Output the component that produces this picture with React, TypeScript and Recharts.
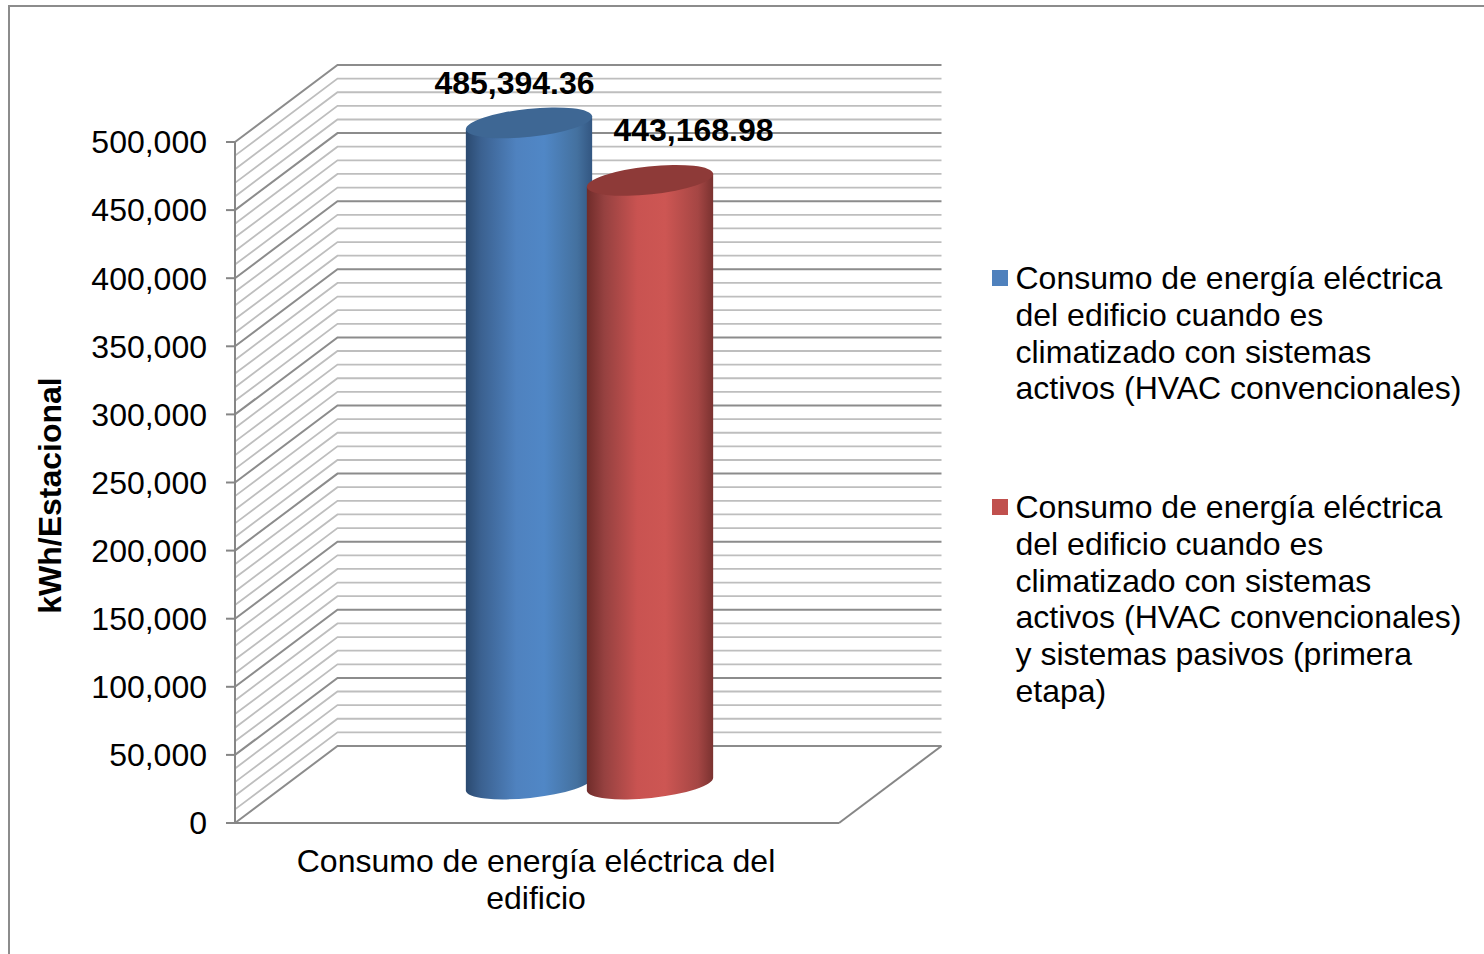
import { BarChart, Bar, XAxis, YAxis, CartesianGrid, Legend } from "recharts";

const categories = ["Consumo de energía eléctrica del edificio"];
const categoryLines = ["Consumo de energía eléctrica del", "edificio"];
const activeValues = [485394.36];
const activePassiveValues = [443168.98];
const activeName = "Consumo de energía eléctrica del edificio cuando es climatizado con sistemas activos (HVAC convencionales)";
const activePassiveName = "Consumo de energía eléctrica del edificio cuando es climatizado con sistemas activos (HVAC convencionales) y sistemas pasivos (primera etapa)";
const yTicks = [0, 50000, 100000, 150000, 200000, 250000, 300000, 350000, 400000, 450000, 500000];
const minorStep = 10000;
const gridValues = Array.from({ length: 51 }, (_, i) => i * minorStep);

const data = categories.map((name, i) => ({
  name,
  active: activeValues[i],
  activePassive: activePassiveValues[i],
}));

// fake 3d: how far the back wall sits from the front plane
const WALL_DX = 102.5;
const WALL_DY = -77;
const BAR_DX = 52.5;
const BAR_DY = -39;
const TILT = -6;
const FONT = "'Liberation Sans', Arial, sans-serif";
const AXIS = "#868686";

function GridLine(props: any) {
  const { x1, x2, y1, index } = props;
  const major = index % 5 === 0;
  const by = y1 + WALL_DY;
  const isFloor = Math.abs(y1 - 823) < 1;
  return (
    <g key={index}>
      <polyline
        points={`${x1},${y1} ${x1 + WALL_DX},${by} ${x2 + WALL_DX},${by}`}
        fill="none"
        stroke={major ? "#8c8c8c" : "#bebebe"}
        strokeWidth={major ? 2 : 1.8}
      />
      {isFloor && <line x1={x2} y1={y1} x2={x2 + WALL_DX} y2={by} stroke={AXIS} strokeWidth={2} />}
    </g>
  );
}

function Cylinder(props: any) {
  const { x, y, width, height, gradient, capFill } = props;
  const cx = x + width / 2 + BAR_DX;
  const topY = y + BAR_DY;
  const botY = y + height + BAR_DY;
  const rx = width / 2;
  const ry = 14;
  const ax = rx * Math.cos((TILT * Math.PI) / 180);
  const ay = rx * Math.sin((TILT * Math.PI) / 180);
  const body =
    `M${cx - ax},${topY - ay} L${cx - ax},${botY - ay} ` +
    `A${rx},${ry} ${TILT} 0 0 ${cx + ax},${botY + ay} ` +
    `L${cx + ax},${topY + ay} Z`;
  return (
    <g>
      <path d={body} fill={`url(#${gradient})`} />
      <ellipse cx={cx} cy={topY} rx={rx} ry={ry} fill={capFill} transform={`rotate(${TILT} ${cx} ${topY})`} />
    </g>
  );
}

function valueLabel(dx: number, dy: number) {
  return (p: any) => (
    <text
      x={p.x + p.width / 2 + dx}
      y={p.y + dy}
      textAnchor="middle"
      fontSize={32}
      fontWeight="bold"
      fontFamily={FONT}
      fill="#000"
    >
      {Number(p.value).toLocaleString("en-US", { minimumFractionDigits: 2 })}
    </text>
  );
}

function CategoryTick(props: any) {
  const { x, y } = props;
  return (
    <text x={x - 1} textAnchor="middle" fontSize={32} fontFamily={FONT} fill="#000">
      {categoryLines.map((line, i) => (
        <tspan key={line} x={x - 1} y={y + 41 + i * 37}>{line}</tspan>
      ))}
    </text>
  );
}

function LegendBox({ payload }: any) {
  return (
    <div style={{ fontFamily: FONT, fontSize: 32, lineHeight: "36.8px", color: "#000" }}>
      {(payload || []).map((entry: any) => (
        <div key={entry.value} style={{ position: "relative", paddingLeft: 23.5, marginBottom: 81.8 }}>
          <span style={{ position: "absolute", left: 0, top: 10, width: 16, height: 16, background: entry.color }} />
          {entry.value}
        </div>
      ))}
    </div>
  );
}

export default function App() {
  return (
    <div style={{ position: "absolute", left: 0, top: 0, width: 1484, height: 954, overflow: "hidden", background: "#fff" }}>
      <div style={{ position: "absolute", left: 8, top: 5, right: 0, bottom: 0, borderLeft: "2px solid #8c8c8c", borderTop: "2px solid #8c8c8c" }} />
      <div style={{ position: "absolute", left: 0, top: 0 }}>
        <BarChart
          width={1484}
          height={954}
          data={data}
          margin={{ top: 142, right: 645, bottom: 31, left: 0 }}
          barSize={127}
          barGap={-6}
        >
          <defs>
            <linearGradient id="blueCyl" x1="0" y1="0" x2="1" y2="0">
              <stop offset="0%" stopColor="#2b4a70" />
              <stop offset="12%" stopColor="#3b6190" />
              <stop offset="40%" stopColor="#4f82bf" />
              <stop offset="62%" stopColor="#5087c6" />
              <stop offset="88%" stopColor="#44719f" />
              <stop offset="100%" stopColor="#335681" />
            </linearGradient>
            <linearGradient id="redCyl" x1="0" y1="0" x2="1" y2="0">
              <stop offset="0%" stopColor="#6f2c2a" />
              <stop offset="14%" stopColor="#964140" />
              <stop offset="40%" stopColor="#c95351" />
              <stop offset="62%" stopColor="#cd5653" />
              <stop offset="88%" stopColor="#a54644" />
              <stop offset="100%" stopColor="#7a3230" />
            </linearGradient>
          </defs>
          <CartesianGrid vertical={false} horizontalValues={gridValues} horizontal={GridLine} />
          <XAxis
            dataKey="name"
            height={100}
            tickLine={false}
            axisLine={{ stroke: AXIS, strokeWidth: 2 }}
            tick={CategoryTick}
          />
          <YAxis
            width={235}
            domain={[0, 500000]}
            ticks={yTicks}
            interval={0}
            tickSize={9}
            tickMargin={19}
            tickLine={{ stroke: AXIS, strokeWidth: 2 }}
            axisLine={{ stroke: AXIS, strokeWidth: 2 }}
            tick={{ fontSize: 32, fontFamily: FONT, fill: "#000" }}
            tickFormatter={(v: number) => v.toLocaleString("en-US")}
            label={{
              value: "kWh/Estacional",
              angle: -90,
              position: "insideLeft",
              offset: 50,
              dy: 13,
              style: { textAnchor: "middle", fontSize: 32, fontWeight: "bold", fontFamily: FONT, fill: "#000" },
            }}
          />
          <Legend
            layout="vertical"
            align="center"
            verticalAlign="middle"
            content={LegendBox}
            wrapperStyle={{ position: "absolute", left: 992, top: 260, width: 478, right: "auto", bottom: "auto", margin: 0 }}
          />
          <Bar
            dataKey="active"
            name={activeName}
            fill="#4F81BD"
            isAnimationActive={false}
            shape={(p: any) => <Cylinder {...p} gradient="blueCyl" capFill="#3e6794" />}
            label={valueLabel(38, -68)}
          />
          <Bar
            dataKey="activePassive"
            name={activePassiveName}
            fill="#C0504D"
            isAnimationActive={false}
            shape={(p: any) => <Cylinder {...p} gradient="redCyl" capFill="#8e3a38" />}
            label={valueLabel(96, -78)}
          />
        </BarChart>
      </div>
    </div>
  );
}
